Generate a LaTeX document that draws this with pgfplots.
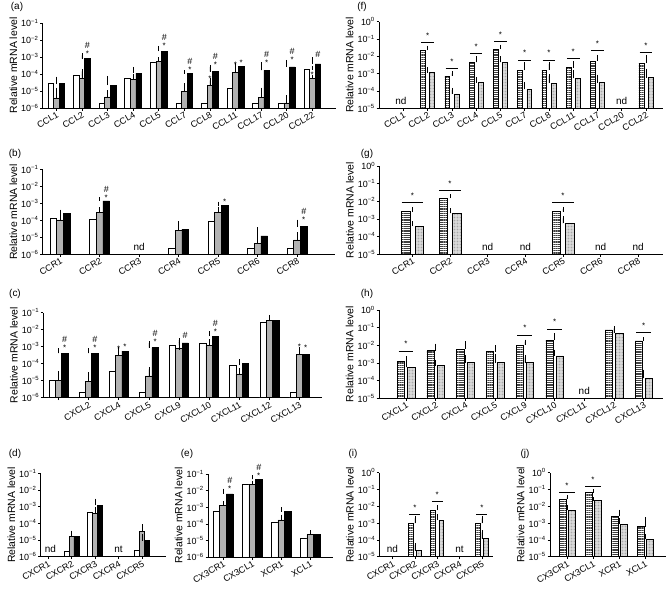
\documentclass[border=0pt]{standalone}
\usepackage{fontspec}
\setmainfont{Liberation Sans}
\usepackage{pgfplots}
\pgfplotsset{compat=1.18}
\usetikzlibrary{patterns.meta}

\pgfplotsset{
 every axis/.append style={
   scale only axis, ymode=log, log origin=infty, clip=false,
   axis x line*=bottom, axis y line*=left,
   axis line style={line width=0.6bp},
   yminorticks=false, tick align=outside, major tick length=2.5bp,
   tick style={black, line width=0.5bp},
   ylabel={Relative mRNA level},
   ylabel style={font=\fontsize{10.5}{12}\selectfont, yshift=-1bp},
   tick label style={font=\fontsize{9}{10}\selectfont},
   x tick label style={rotate=30, anchor=north east, inner sep=0.5bp},
   y tick label style={inner sep=1.5bp},
 },
 lp/.style={ymin=1e-6, ymax=1e-1,
   ytick={1e-6,1e-5,1e-4,1e-3,1e-2,1e-1},
   yticklabels={10\textsuperscript{−6},10\textsuperscript{−5},10\textsuperscript{−4},10\textsuperscript{−3},10\textsuperscript{−2},10\textsuperscript{−1}}},
 rp/.style={ymin=1e-5, ymax=1,
   ytick={1e-5,1e-4,1e-3,1e-2,1e-1,1},
   yticklabels={10\textsuperscript{−5},10\textsuperscript{−4},10\textsuperscript{−3},10\textsuperscript{−2},10\textsuperscript{−1},10\textsuperscript{0}}},
 eb/.style={error bars/y dir=plus, error bars/y explicit,
   error bars/error bar style={line width=0.5bp, black},
   error bars/error mark options={black, line width=0.5bp, mark size=2bp}, ybar},
 wb/.style={eb, draw=black, fill=white, line width=0.5bp},
 gb/.style={eb, draw=black, fill=black!30, line width=0.5bp},
 kb/.style={eb, draw=black, fill=black, line width=0.5bp},
 sb/.style={eb, draw=black, fill=white, line width=0.5bp,
   postaction={pattern={Lines[angle=0,distance=2.2bp,line width=1.1bp]}, pattern color=black!75}},
 db/.style={eb, draw=black, fill=black!12, line width=0.5bp,
   postaction={pattern={Dots[distance=1.5bp,radius=0.4bp]}, pattern color=black!45}},
}
\tikzset{
 sg/.style={anchor=south, inner sep=0pt, font=\fontsize{8}{8}\selectfont},
 hs/.style={anchor=south, inner sep=0pt, font=\fontsize{9}{9}\selectfont},
 ndl/.style={anchor=base, yshift=4bp, font=\fontsize{10}{12}\selectfont},
 pl/.style={font=\fontsize{10}{12}\selectfont},
}
\newcommand{\sst}[2]{\node[sg, yshift=-1bp] at (axis cs:#1,#2) {*};}
\newcommand{\sh}[2]{\node[sg, yshift=-1bp] at (axis cs:#1,#2) {*};\node[hs, yshift=7bp] at (axis cs:#1,#2) {\#};}
\newcommand{\hh}[2]{\node[hs, yshift=2bp] at (axis cs:#1,#2) {\#};}
\newcommand{\sig}[3]{\draw[line width=0.6bp] (axis cs:#1-#3,#2) -- (axis cs:#1+#3,#2);\node[sg, yshift=4bp] at (axis cs:#1,#2) {*};}

\begin{document}
\begin{tikzpicture}
\path[use as bounding box] (0,0) rectangle (666bp,-594bp);

% panel labels
\node[pl] at (17bp,-7bp) {(a)};
\node[pl] at (15bp,-154bp) {(b)};
\node[pl] at (15bp,-294bp) {(c)};
\node[pl] at (15bp,-454bp) {(d)};
\node[pl] at (187bp,-454bp) {(e)};
\node[pl] at (362bp,-7bp) {(f)};
\node[pl] at (367bp,-154bp) {(g)};
\node[pl] at (367bp,-294bp) {(h)};
\node[pl] at (353bp,-454bp) {(i)};
\node[pl] at (525bp,-454bp) {(j)};

% (a)
\begin{axis}[lp, at={(42.7bp,-108bp)}, anchor=south west, width=293.3bp, height=85bp,
  xmin=-0.53, xmax=10.93, bar width=0.22, xtick={0,...,10},
  xticklabels={CCL1,CCL2,CCL3,CCL4,CCL5,CCL7,CCL8,CCL11,CCL17,CCL20,CCL22}]
\addplot[wb, bar shift=-0.22] coordinates {(0,2.7e-5)+-(0,2.7e-5) (1,8.3e-5)+-(0,6.1e-5) (2,1.9e-6)+-(0,2e-7) (3,5.3e-5)+-(0,1.3e-5) (4,5.1e-4)+-(0,1.9e-4) (5,2e-6)+-(0,3e-7) (6,2e-6)+-(0,3e-7) (7,1.5e-5)+-(0,2.2e-5) (8,2e-6)+-(0,3e-7) (9,2e-6)+-(0,3e-7) (10,1.8e-4)+-(0,5e-5)};
\addplot[gb, bar shift=0] coordinates {(0,3.9e-6)+-(0,8.1e-6) (1,5.3e-5)+-(0,3.8e-5) (2,4.5e-6)+-(0,4e-6) (3,4.9e-5)+-(0,2.4e-5) (4,5.5e-4)+-(0,2e-4) (5,1e-5)+-(0,1.2e-5) (6,2.2e-5)+-(0,2e-5) (7,1.3e-4)+-(0,1.3e-4) (8,4.4e-6)+-(0,7.6e-6) (9,2e-6)+-(0,2.4e-6) (10,5.3e-5)+-(0,1.3e-5)};
\addplot[kb, bar shift=0.22] coordinates {(0,2.7e-5)+-(0,1.9e-5) (1,8e-4)+-(0,4.6e-4) (2,2.2e-5)+-(0,3.8e-5) (3,1.14e-4)+-(0,8.6e-5) (4,2.25e-3)+-(0,1.15e-3) (5,1.05e-4)+-(0,2.5e-5) (6,1.4e-4)+-(0,1.2e-4) (7,2.9e-4)+-(0,6e-5) (8,1.65e-4)+-(0,2e-4) (9,2.6e-4)+-(0,2.5e-4) (10,4e-4)+-(0,3.2e-4)};
\sh{1.22}{1.26e-3} \sh{4.22}{3.4e-3} \sh{5.22}{1.3e-4} \sst{6}{4.2e-5} \sh{6.22}{2.6e-4}
\sst{7}{2.6e-4} \sst{7.22}{3.5e-4} \sh{8.22}{3.7e-4} \sh{9.22}{5.1e-4} \sst{10}{6.6e-5} \hh{10.22}{7.2e-4}
\end{axis}

% (b)
\begin{axis}[lp, at={(42.7bp,-254.3bp)}, anchor=south west, width=292.3bp, height=85bp,
  xmin=-0.44, xmax=6.96, bar width=0.17, xtick={0,...,6},
  xticklabels={CCR1,CCR2,CCR3,CCR4,CCR5,CCR6,CCR8}]
\addplot[wb, bar shift=-0.17] coordinates {(0,1.3e-4)+-(0,1.3e-4) (1,1.2e-4)+-(0,1e-4) (3,2.2e-6)+-(0,3e-7) (4,9.1e-5)+-(0,3.9e-5) (5,2.2e-6)+-(0,3e-7) (6,2.2e-6)+-(0,3e-7)};
\addplot[gb, bar shift=0] coordinates {(0,1.05e-4)+-(0,7.5e-5) (1,2.8e-4)+-(0,1.6e-4) (3,2.5e-5)+-(0,2.1e-5) (4,2.8e-4)+-(0,2e-4) (5,4.4e-6)+-(0,5.1e-6) (6,7e-6)+-(0,8e-6)};
\addplot[kb, bar shift=0.17] coordinates {(0,2.6e-4)+-(0,6e-5) (1,1.37e-3)+-(0,3.3e-4) (3,3e-5)+-(0,3.6e-5) (4,7.2e-4)+-(0,2.3e-4) (5,1.2e-5)+-(0,1.8e-5) (6,4.2e-5)+-(0,4.1e-5)};
\sh{1.17}{1.7e-3} \sst{4.17}{9.5e-4} \sh{6.17}{8.3e-5}
\node[ndl] at (axis cs:2,1e-6) {nd};
\end{axis}

% (c)
\begin{axis}[lp, at={(43.3bp,-397.7bp)}, anchor=south west, width=278.4bp, height=85bp,
  xmin=-0.5, xmax=8.74, bar width=0.21, xtick={0,...,8},
  xticklabels={,CXCL2,CXCL4,CXCL5,CXCL9,CXCL10,CXCL11,CXCL12,CXCL13}]
\addplot[wb, bar shift=-0.21] coordinates {(0,1e-5)+-(0,1.7e-5) (1,2.1e-6)+-(0,3e-7) (2,3.4e-5)+-(0,6.6e-5) (3,2.1e-6)+-(0,3e-7) (4,1.15e-3)+-(0,6.5e-4) (5,1.6e-3)+-(0,5e-4) (6,8.3e-5)+-(0,5.7e-5) (7,2.6e-2)+-(0,8e-3) (8,2.1e-6)+-(0,3e-7)};
\addplot[gb, bar shift=0] coordinates {(0,1.1e-5)+-(0,1.6e-5) (1,8.7e-6)+-(0,1.5e-5) (2,3.2e-4)+-(0,2.3e-4) (3,1.9e-5)+-(0,2.7e-5) (4,8e-4)+-(0,8e-5) (5,1.25e-3)+-(0,4.5e-4) (6,2.5e-5)+-(0,1.7e-5) (7,3.7e-2)+-(0,2e-2) (8,3.7e-4)+-(0,3.5e-4)};
\addplot[kb, bar shift=0.21] coordinates {(0,4.1e-4)+-(0,2.2e-4) (1,4.1e-4)+-(0,2.2e-4) (2,5.5e-4)+-(0,1.7e-4) (3,8.7e-4)+-(0,7.3e-4) (4,1.7e-3)+-(0,7e-4) (5,4.2e-3)+-(0,1.8e-3) (6,1.05e-4)+-(0,1.5e-5) (7,3.7e-2)+-(0,5e-3) (8,3.7e-4)+-(0,2.6e-4)};
\sh{0.21}{6.3e-4} \sh{1.21}{6.3e-4} \sst{2}{5.5e-4} \sst{2.21}{7.2e-4} \sh{3.21}{1.6e-3} \hh{4.21}{2.4e-3} \sh{5.21}{6e-3} \sst{8}{7.2e-4} \sst{8.21}{6.3e-4}
\end{axis}

% (d)
\begin{axis}[lp, at={(40.7bp,-556.7bp)}, anchor=south west, width=125.3bp, height=83.4bp,
  xmin=-0.31, xmax=5.02, bar width=0.21, xtick={0,...,4},
  xticklabels={CXCR1,CXCR2,CXCR3,CXCR4,CXCR5}]
\addplot[wb, bar shift=-0.21] coordinates {(1,2e-6)+-(0,3e-7) (2,4.6e-4)+-(0,1.2e-4) (4,2.5e-6)+-(0,1e-6)};
\addplot[gb, bar shift=0] coordinates {(1,1.6e-5)+-(0,9e-6) (2,4e-4)+-(0,2.9e-4) (4,3.2e-5)+-(0,3.7e-5)};
\addplot[kb, bar shift=0.21] coordinates {(1,1.6e-5)+-(0,1.2e-5) (2,1.25e-3)+-(0,1.05e-3) (4,9.1e-6)+-(0,8e-6)};
\node[ndl] at (axis cs:0.1,1e-6) {nd};
\node[ndl] at (axis cs:3,1e-6) {nt};
\end{axis}

% (e)
\begin{axis}[lp, at={(208bp,-557bp)}, anchor=south west, width=125bp, height=83bp,
  xmin=-0.52, xmax=3.79, bar width=0.23, xtick={0,...,3},
  xticklabels={CX3CR1,CX3CL1,XCR1,XCL1}]
\addplot[wb, bar shift=-0.23] coordinates {(0,6e-4)+-(0,5e-4) (1,2.4e-2)+-(0,4e-3) (2,1.26e-4)+-(0,1.24e-4) (3,1.4e-5)+-(0,1.1e-5)};
\addplot[gb, bar shift=0] coordinates {(0,1.25e-3)+-(0,5e-4) (1,2.5e-2)+-(0,4e-3) (2,1.7e-4)+-(0,1e-4) (3,2.2e-5)+-(0,8e-6)};
\addplot[kb, bar shift=0.23] coordinates {(0,6.3e-3)+-(0,3.7e-3) (1,4.8e-2)+-(0,1.5e-2) (2,5.5e-4)+-(0,2.1e-4) (3,2.2e-5)+-(0,8e-6)};
\sh{0.23}{1e-2} \sh{1.23}{6.3e-2}
\end{axis}

% (f)
\begin{axis}[rp, at={(379bp,-108.3bp)}, anchor=south west, width=284bp, height=86.6bp,
  xmin=-1.0, xmax=10.7, bar width=0.2, xtick={0,...,10},
  xticklabels={CCL1,CCL2,CCL3,CCL4,CCL5,CCL7,CCL8,CCL11,CCL17,CCL20,CCL22}]
\addplot[sb, bar shift=-0.19] coordinates {(1,2.3e-2)+-(0,9e-3) (2,7.4e-4)+-(0,3.1e-4) (3,4.5e-3)+-(0,3.1e-3) (4,2.6e-2)+-(0,1e-2) (5,1.6e-3)+-(0,1.9e-3) (6,1.6e-3)+-(0,1.9e-3) (7,2.2e-3)+-(0,1.7e-3) (8,5.4e-3)+-(0,4e-3) (10,4e-3)+-(0,5.4e-3)};
\addplot[db, bar shift=0.19] coordinates {(1,1.15e-3)+-(0,6.5e-4) (2,6.7e-5)+-(0,4.8e-5) (3,3e-4)+-(0,1.7e-4) (4,4.5e-3)+-(0,3.1e-3) (5,1.25e-4)+-(0,1.25e-4) (6,2.8e-4)+-(0,4.6e-4) (7,5.4e-4)+-(0,7.6e-4) (8,3e-4)+-(0,3.7e-4) (10,6e-4)+-(0,9e-4)};
\sig{1}{6.2e-2}{0.26} \sig{2}{2e-3}{0.26} \sig{3}{1.5e-2}{0.26} \sig{4}{7e-2}{0.26} \sig{5}{6.2e-3}{0.26}
\sig{6}{6.2e-3}{0.26} \sig{7}{7.6e-3}{0.26} \sig{8}{2.1e-2}{0.26} \sig{10}{1.7e-2}{0.26}
\node[ndl] at (axis cs:-0.1,1e-5) {nd};
\node[ndl] at (axis cs:9,1e-5) {nd};
\end{axis}

% (g)
\begin{axis}[rp, at={(379.3bp,-254.3bp)}, anchor=south west, width=283.7bp, height=88.3bp,
  xmin=-0.88, xmax=6.66, bar width=0.22, xtick={0,...,6},
  xticklabels={CCR1,CCR2,CCR3,CCR4,CCR5,CCR6,CCR8}]
\addplot[sb, bar shift=-0.18] coordinates {(0,2.6e-3)+-(0,1.1e-3) (1,1.5e-2)+-(0,5e-3) (4,2.6e-3)+-(0,1.1e-3)};
\addplot[db, bar shift=0.18] coordinates {(0,4e-4)+-(0,1.6e-4) (1,2.1e-3)+-(0,1.1e-3) (4,5.6e-4)+-(0,5.4e-4)};
\sig{0}{8.4e-3}{0.29} \sig{1}{4e-2}{0.29} \sig{4}{8.4e-3}{0.29}
\node[ndl] at (axis cs:2,1e-5) {nd};
\node[ndl] at (axis cs:3,1e-5) {nd};
\node[ndl] at (axis cs:5,1e-5) {nd};
\node[ndl] at (axis cs:6,1e-5) {nd};
\end{axis}

% (h)
\begin{axis}[rp, at={(379bp,-398.3bp)}, anchor=south west, width=284bp, height=88.3bp,
  xmin=-0.91, xmax=8.65, bar width=0.24, xtick={0,...,8},
  xticklabels={CXCL1,CXCL2,CXCL4,CXCL5,CXCL9,CXCL10,CXCL11,CXCL12,CXCL13}]
\addplot[sb, bar shift=-0.175] coordinates {(0,1.2e-3)+-(0,6.5e-4) (1,5e-3)+-(0,4.5e-3) (2,6.2e-3)+-(0,6.8e-3) (3,4.4e-3)+-(0,3.3e-3) (4,1.05e-2)+-(0,5.5e-3) (5,2e-2)+-(0,1.8e-2) (7,7.4e-2)+-(0,1.8e-2) (8,1.8e-2)+-(0,4e-3)};
\addplot[db, bar shift=0.175] coordinates {(0,5.6e-4)+-(0,4.9e-4) (1,7.1e-4)+-(0,4.9e-4) (2,1.05e-3)+-(0,1.05e-3) (3,1.05e-3)+-(0,1.45e-3) (4,1.05e-3)+-(0,1.05e-3) (5,2.5e-3)+-(0,1.9e-3) (7,4.8e-2)+-(0,2.6e-2) (8,1.35e-4)+-(0,1.85e-4)};
\sig{0}{4.8e-3}{0.25} \sig{4}{3.8e-2}{0.25} \sig{5}{8.4e-2}{0.25} \sig{8}{5.4e-2}{0.25}
\node[ndl] at (axis cs:6,1e-5) {nd};
\end{axis}

% (i)
\begin{axis}[rp, at={(379.3bp,-556.7bp)}, anchor=south west, width=113.7bp, height=84bp,
  xmin=-0.59, xmax=4.5, bar width=0.21, xtick={0,...,4},
  xticklabels={CXCR1,CXCR2,CXCR3,CXCR4,CXCR5}]
\addplot[sb, bar shift=-0.19] coordinates {(1,9.6e-4)+-(0,9.4e-4) (2,6e-3)+-(0,2.6e-3) (4,9.6e-4)+-(0,9.4e-4)};
\addplot[db, bar shift=0.19] coordinates {(1,2.3e-5)+-(0,2.6e-5) (2,1.5e-3)+-(0,1.1e-3) (4,1.2e-4)+-(0,1.6e-4)};
\sig{1}{3.3e-3}{0.24} \sig{2}{1.9e-2}{0.24} \sig{4}{3.3e-3}{0.24}
\node[ndl] at (axis cs:0,1e-5) {nd};
\node[ndl] at (axis cs:3,1e-5) {nt};
\end{axis}

% (j)
\begin{axis}[rp, at={(550bp,-556.7bp)}, anchor=south west, width=116bp, height=84bp,
  xmin=-0.65, xmax=3.8, bar width=0.26, xtick={0,...,3},
  xticklabels={CX3CR1,CX3CL1,XCR1,XCL1}]
\addplot[sb, bar shift=-0.17] coordinates {(0,2.7e-2)+-(0,7e-3) (1,6.5e-2)+-(0,1.6e-2) (2,2.6e-3)+-(0,2.2e-3) (3,6.1e-4)+-(0,1.04e-3)};
\addplot[db, bar shift=0.17] coordinates {(0,6e-3)+-(0,2.6e-3) (1,2.15e-2)+-(0,5.5e-3) (2,8.8e-4)+-(0,6.2e-4) (3,1.07e-4)+-(0,6.3e-5)};
\sig{0}{6.5e-2}{0.29} \sig{1}{1.5e-1}{0.29}
\end{axis}
\end{tikzpicture}
\end{document}
